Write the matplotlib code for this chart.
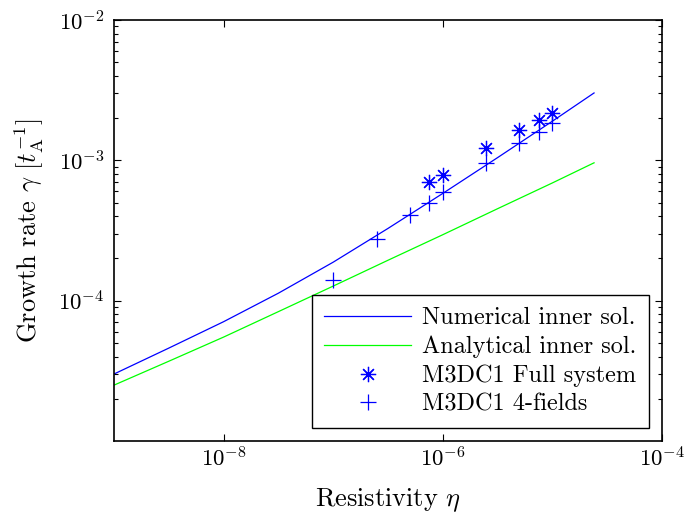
import numpy as np
import matplotlib
matplotlib.use('Agg')
import matplotlib.pyplot as plt
from matplotlib.ticker import LogLocator, NullLocator, NullFormatter

# data (log-log)
eta_line = [1e-9, 3.16e-9, 1e-8, 3.16e-8, 1e-7, 3.16e-7, 1e-6, 3.16e-6, 1e-5, 2.4e-5]
gamma_num = [3.0e-5, 4.59e-5, 7.08e-5, 1.13e-4, 1.88e-4, 3.27e-4, 5.81e-4, 1.045e-3, 1.9e-3, 3.02e-3]
gamma_ana = [2.5e-5, 3.7e-5, 5.5e-5, 8.35e-5, 1.27e-4, 1.94e-4, 2.95e-4, 4.52e-4, 6.9e-4, 9.6e-4]

eta_full = [7.5e-7, 1e-6, 2.5e-6, 5e-6, 7.5e-6, 1e-5]
gamma_full = [6.97e-4, 7.8e-4, 1.22e-3, 1.64e-3, 1.93e-3, 2.17e-3]

eta_4f = [1e-7, 2.5e-7, 5e-7, 7.5e-7, 1e-6, 2.5e-6, 5e-6, 7.5e-6, 1e-5]
gamma_4f = [1.41e-4, 2.73e-4, 4.11e-4, 5.0e-4, 5.9e-4, 9.5e-4, 1.32e-3, 1.58e-3, 1.84e-3]

xticks = [1e-8, 1e-6, 1e-4]
yticks = [1e-4, 1e-3, 1e-2]

plt.rcParams['font.family'] = 'serif'
plt.rcParams['font.serif'] = ['cmr10']
plt.rcParams['mathtext.fontset'] = 'cm'
plt.rcParams['axes.formatter.use_mathtext'] = True

fig = plt.figure(figsize=(6.85, 5.19), dpi=100)
ax = fig.add_axes([0.1664, 0.1503, 0.80, 0.8112])

ax.plot(eta_line, gamma_num, color='#0000ff', lw=0.9, label='Numerical inner sol.')
ax.plot(eta_line, gamma_ana, color='#00ff00', lw=0.9, label='Analytical inner sol.')
ax.plot(eta_full, gamma_full, ls='none', marker=(8, 2, 0), ms=11, mew=0.9,
        color='#0000ff', label='M3DC1 Full system')
ax.plot(eta_4f, gamma_4f, ls='none', marker='+', ms=12, mew=0.9,
        color='#0000ff', label='M3DC1 4-fields')

ax.set_xscale('log')
ax.set_yscale('log')
ax.set_xlim(1e-9, 1e-4)
ax.set_ylim(1e-5, 1e-2)

ax.set_xticks(xticks)
ax.set_xticklabels([r'$10^{-8}$', r'$10^{-6}$', r'$10^{-4}$'])
ax.xaxis.set_minor_locator(NullLocator())
ax.set_yticks(yticks)
ax.set_yticklabels([r'$10^{-4}$', r'$10^{-3}$', r'$10^{-2}$'])
ax.yaxis.set_minor_locator(LogLocator(base=10, subs=np.arange(2, 10)))
ax.yaxis.set_minor_formatter(NullFormatter())

ax.tick_params(which='both', direction='in', top=True, right=True, labelsize=16.5, width=0.8)
ax.tick_params(which='major', length=5)
ax.tick_params(which='minor', length=3)
ax.tick_params(axis='x', which='major', pad=4)
ax.tick_params(axis='y', which='major', pad=7)
for s in ax.spines.values():
    s.set_linewidth(1.2)

ax.set_xlabel(r'Resistivity $\eta$', fontsize=19, labelpad=11)
ax.set_ylabel(r'Growth rate $\gamma$ $[t_\mathrm{A}^{-1}]$', fontsize=19, labelpad=9)

leg = ax.legend(loc='lower right', fontsize=17.5, frameon=True, fancybox=False,
                edgecolor='black', framealpha=1, borderaxespad=0.55,
                labelspacing=0.26, handlelength=3.6, handletextpad=0.45,
                borderpad=0.5)
leg.get_frame().set_linewidth(1.0)

fig.savefig('out.png', dpi=100)
